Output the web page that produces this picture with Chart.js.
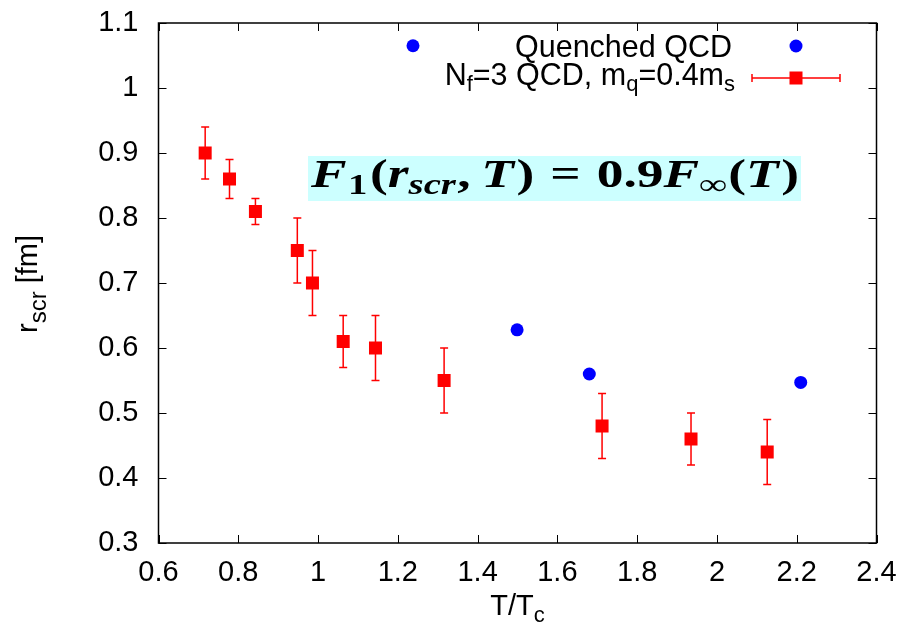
<!DOCTYPE html>
<html>
<head>
<meta charset="utf-8">
<script src="https://cdn.jsdelivr.net/npm/chart.js@4/dist/chart.umd.min.js"></script>
<style>
  html, body { margin: 0; padding: 0; background: #fff; }
</style>
</head>
<body>
<canvas id="rscrChart" width="906" height="638"></canvas>
<script>
// quenched QCD screening radius
var quenchedT = [1.238, 1.499, 1.680, 2.210];
var quenchedR = [1.065, 0.628, 0.560, 0.547];

// Nf=3 QCD, mq=0.4ms, with symmetric errors
var nf3T = [0.717, 0.778, 0.843, 0.948, 0.986, 1.063, 1.144, 1.316, 1.712, 1.935, 2.126];
var nf3R = [0.90, 0.86, 0.81, 0.75, 0.70, 0.61, 0.60, 0.55, 0.48, 0.46, 0.44];
var nf3Err = [0.04, 0.03, 0.02, 0.05, 0.05, 0.04, 0.05, 0.05, 0.05, 0.04, 0.05];

var xTickValues = [0.6, 0.8, 1.0, 1.2, 1.4, 1.6, 1.8, 2.0, 2.2, 2.4];
var xTickLabels = ['0.6', '0.8', '1', '1.2', '1.4', '1.6', '1.8', '2', '2.2', '2.4'];
var yTickValues = [0.3, 0.4, 0.5, 0.6, 0.7, 0.8, 0.9, 1.0, 1.1];
var yTickLabels = ['0.3', '0.4', '0.5', '0.6', '0.7', '0.8', '0.9', '1', '1.1'];

var SANS = '"Liberation Sans", Arial, sans-serif';
var SERIF = '"Liberation Serif", serif';

function toPoints(xs, ys) {
    return xs.map(function(x, i) { return { x: x, y: ys[i] }; });
}

function labelFor(values, labels, v) {
    for (var i = 0; i < values.length; i++) {
        if (Math.abs(values[i] - v) < 1e-9) return labels[i];
    }
    return '';
}

// draws a run of text pieces (for sub/superscripts), returns its width
function drawPieces(ctx, pieces, x, y, align) {
    var total = 0;
    pieces.forEach(function(p) {
        ctx.font = p.font;
        p.w = ctx.measureText(p.text).width + (p.gap || 0);
        total += p.w;
    });
    if (align === 'right') x -= total;
    else if (align === 'center') x -= total / 2;
    pieces.forEach(function(p) {
        ctx.font = p.font;
        ctx.fillText(p.text, x, y + (p.dy || 0));
        x += p.w;
    });
    return total;
}

function sans(size) { return size + 'px ' + SANS; }

// gnuplot style frame with inward ticks on all four sides
var framePlugin = {
    id: 'frame',
    afterDraw: function(chart) {
        var ctx = chart.ctx, a = chart.chartArea;
        var xs = chart.scales.x, ys = chart.scales.y;
        ctx.save();
        ctx.strokeStyle = '#000';
        ctx.lineWidth = 1;
        ctx.beginPath();
        xTickValues.forEach(function(v) {
            var px = Math.round(xs.getPixelForValue(v)) + 0.5;
            ctx.moveTo(px, a.bottom); ctx.lineTo(px, a.bottom - 8);
            ctx.moveTo(px, a.top); ctx.lineTo(px, a.top + 8);
        });
        yTickValues.forEach(function(v) {
            var py = Math.round(ys.getPixelForValue(v)) + 0.5;
            ctx.moveTo(a.left, py); ctx.lineTo(a.left + 8, py);
            ctx.moveTo(a.right, py); ctx.lineTo(a.right - 8, py);
        });
        ctx.stroke();
        ctx.lineWidth = 1.5;
        ctx.strokeRect(a.left, a.top, a.right - a.left, a.bottom - a.top);

        // axis titles
        ctx.fillStyle = '#000';
        ctx.textBaseline = 'alphabetic';
        drawPieces(ctx, [
            { text: 'T/T', font: sans(29) },
            { text: 'c', font: sans(22), dy: 7 }
        ], (a.left + a.right) / 2, 615, 'center');

        ctx.save();
        ctx.translate(37, 284);
        ctx.rotate(-Math.PI / 2);
        drawPieces(ctx, [
            { text: 'r', font: sans(29) },
            { text: 'scr', font: sans(24), dy: 9 },
            { text: ' [fm]', font: sans(29) }
        ], 0, 0, 'center');
        ctx.restore();
        ctx.restore();
    }
};

// vertical error bars for the Nf=3 series
var errorBarPlugin = {
    id: 'errorBars',
    beforeDatasetsDraw: function(chart) {
        var ctx = chart.ctx;
        var xs = chart.scales.x, ys = chart.scales.y;
        ctx.save();
        ctx.strokeStyle = '#ff0000';
        ctx.lineWidth = 1.5;
        ctx.beginPath();
        nf3T.forEach(function(t, i) {
            var px = xs.getPixelForValue(t);
            var top = ys.getPixelForValue(nf3R[i] + nf3Err[i]);
            var bot = ys.getPixelForValue(nf3R[i] - nf3Err[i]);
            ctx.moveTo(px, top); ctx.lineTo(px, bot);
            ctx.moveTo(px - 4, top); ctx.lineTo(px + 4, top);
            ctx.moveTo(px - 4, bot); ctx.lineTo(px + 4, bot);
        });
        ctx.stroke();
        ctx.restore();
    }
};

// key in the top right corner
var keyPlugin = {
    id: 'key',
    afterDraw: function(chart) {
        var ctx = chart.ctx;
        ctx.save();
        ctx.fillStyle = '#000';
        ctx.textBaseline = 'alphabetic';
        drawPieces(ctx, [{ text: 'Quenched QCD', font: sans(30.5) }], 732, 57, 'right');
        drawPieces(ctx, [
            { text: 'N', font: sans(30.5) },
            { text: 'f', font: sans(22), dy: 6 },
            { text: '=3 QCD, m', font: sans(30.5) },
            { text: 'q', font: sans(22), dy: 6 },
            { text: '=0.4m', font: sans(30.5) },
            { text: 's', font: sans(22), dy: 6 }
        ], 735, 85, 'right');

        var kx = 796;
        ctx.fillStyle = '#0000ff';
        ctx.beginPath();
        ctx.arc(kx, 46, 6.5, 0, Math.PI * 2);
        ctx.fill();

        ctx.strokeStyle = '#ff0000';
        ctx.lineWidth = 1.5;
        ctx.beginPath();
        ctx.moveTo(752, 78); ctx.lineTo(840, 78);
        ctx.moveTo(752, 74); ctx.lineTo(752, 82);
        ctx.moveTo(840, 74); ctx.lineTo(840, 82);
        ctx.stroke();
        ctx.fillStyle = '#ff0000';
        ctx.fillRect(kx - 6.5, 78 - 6.5, 13, 13);
        ctx.restore();
    }
};

// the F1(rscr,T) = 0.9 Finf(T) definition on a cyan box
var formulaPlugin = {
    id: 'formula',
    beforeDatasetsDraw: function(chart) {
        var ctx = chart.ctx;
        var b = 'bold ', bi = 'bold italic ';
        var big = 40, small = 29;
        var pieces = [
            { text: 'F', font: bi + big + 'px ' + SERIF, gap: 1 },
            { text: '1', font: b + small + 'px ' + SERIF, dy: 7, gap: 2 },
            { text: '(', font: b + big + 'px ' + SERIF },
            { text: 'r', font: bi + big + 'px ' + SERIF },
            { text: 'scr', font: bi + small + 'px ' + SERIF, dy: 7, gap: 1 },
            { text: ',', font: b + big + 'px ' + SERIF, gap: 8 },
            { text: 'T', font: bi + big + 'px ' + SERIF, gap: 2 },
            { text: ')', font: b + big + 'px ' + SERIF, gap: 12 },
            { text: '=', font: b + big + 'px ' + SERIF, gap: 12 },
            { text: '0.9', font: b + big + 'px ' + SERIF },
            { text: 'F', font: bi + big + 'px ' + SERIF },
            { text: '\u221E', font: b + small + 'px ' + SERIF, dy: 7, gap: 1 },
            { text: '(', font: b + big + 'px ' + SERIF },
            { text: 'T', font: bi + big + 'px ' + SERIF, gap: 2 },
            { text: ')', font: b + big + 'px ' + SERIF }
        ];
        ctx.save();
        ctx.fillStyle = '#ccffff';
        ctx.fillRect(308, 156, 493, 45);

        var w = 0;
        pieces.forEach(function(p) { ctx.font = p.font; w += ctx.measureText(p.text).width + (p.gap || 0); });
        ctx.translate(311, 187);
        ctx.scale(488 / w, 1);
        ctx.fillStyle = '#000';
        ctx.textBaseline = 'alphabetic';
        drawPieces(ctx, pieces, 0, 0, 'left');
        ctx.restore();
    }
};

var ctx = document.getElementById('rscrChart').getContext('2d');
var rscrChart = new Chart(ctx, {
    type: 'scatter',
    data: {
        datasets: [{
            label: 'Quenched QCD',
            data: toPoints(quenchedT, quenchedR),
            pointStyle: 'circle',
            pointRadius: 6.5,
            backgroundColor: '#0000ff',
            borderWidth: 0
        }, {
            label: 'Nf=3 QCD, mq=0.4ms',
            data: toPoints(nf3T, nf3R),
            pointStyle: 'rect',
            pointRadius: 9.2,
            backgroundColor: '#ff0000',
            borderWidth: 0
        }]
    },
    options: {
        responsive: false,
        animation: false,
        layout: { padding: { top: 23, right: 29.5, left: 0, bottom: 0 } },
        plugins: {
            legend: { display: false },
            tooltip: { enabled: false }
        },
        scales: {
            x: {
                type: 'linear',
                min: 0.6,
                max: 2.4,
                afterBuildTicks: function(scale) {
                    scale.ticks = xTickValues.map(function(v) { return { value: v }; });
                },
                afterFit: function(scale) {
                    scale.height = 95;
                    scale.paddingLeft = 0;
                    scale.paddingRight = 0;
                },
                grid: { display: false, drawTicks: false },
                border: { display: false },
                ticks: {
                    padding: 13,
                    color: '#000',
                    maxRotation: 0,
                    autoSkip: false,
                    font: { family: SANS, size: 29 },
                    callback: function(v) { return labelFor(xTickValues, xTickLabels, v); }
                }
            },
            y: {
                type: 'linear',
                min: 0.3,
                max: 1.1,
                afterBuildTicks: function(scale) {
                    scale.ticks = yTickValues.map(function(v) { return { value: v }; });
                },
                afterFit: function(scale) {
                    scale.width = 158.5;
                    scale.paddingTop = 0;
                    scale.paddingBottom = 0;
                },
                grid: { display: false, drawTicks: false },
                border: { display: false },
                ticks: {
                    padding: 20,
                    color: '#000',
                    autoSkip: false,
                    font: { family: SANS, size: 29 },
                    callback: function(v) { return labelFor(yTickValues, yTickLabels, v); }
                }
            }
        }
    },
    plugins: [formulaPlugin, errorBarPlugin, framePlugin, keyPlugin]
});
</script>
</body>
</html>
